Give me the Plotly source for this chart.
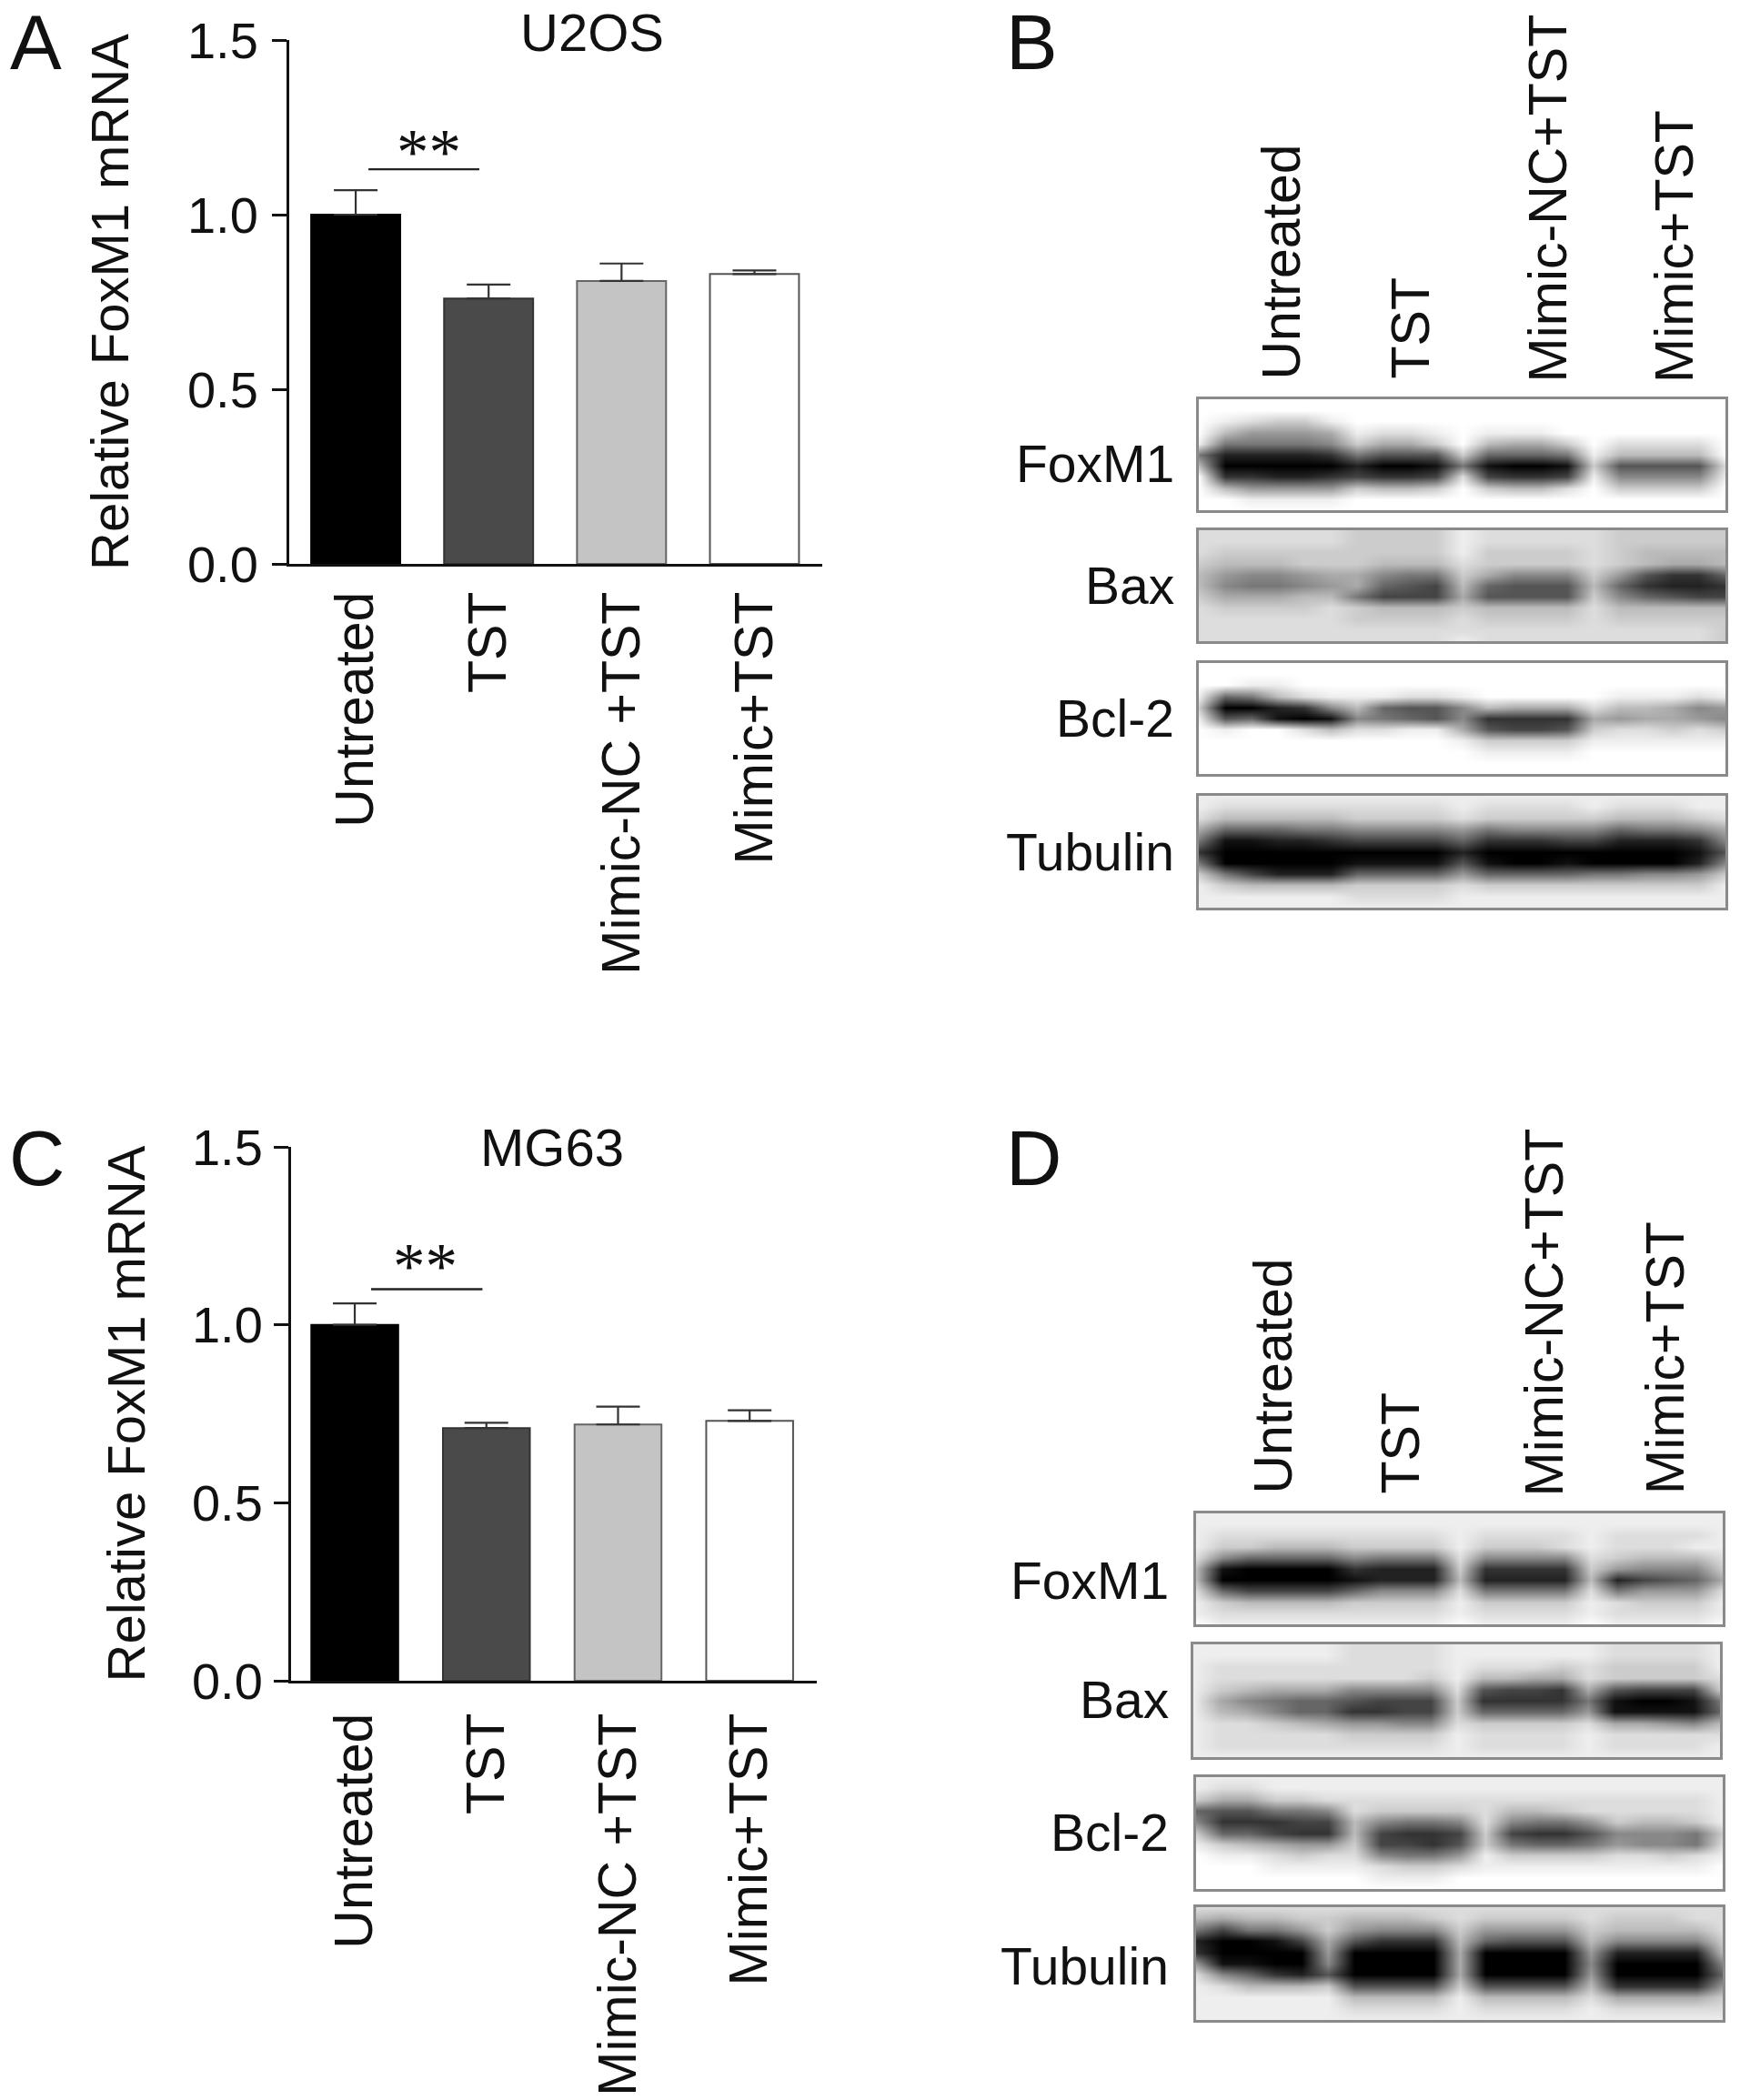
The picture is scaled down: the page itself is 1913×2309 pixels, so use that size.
import numpy as np
import plotly.graph_objects as go

# ---------- data ----------
conditions_bar = ["Untreated", "TST", "Mimic-NC +TST", "Mimic+TST"]
conditions_blot = ["Untreated", "TST", "Mimic-NC+TST", "Mimic+TST"]
proteins = ["FoxM1", "Bax", "Bcl-2", "Tubulin"]
ticks_y = [0.0, 0.5, 1.0, 1.5]

u2os_mean = [1.00, 0.76, 0.81, 0.83]
u2os_err = [0.07, 0.04, 0.05, 0.01]
mg63_mean = [1.00, 0.71, 0.72, 0.73]
mg63_err = [0.06, 0.015, 0.05, 0.03]
sig_level_u2os = 1.13
sig_level_mg63 = 1.10

# Blot brightness, one hex digit per cell (0 black, f white);
# rows run top to bottom, columns left to right across the lanes.
b_foxm1 = ["f fffff ffff f ffff f ffff f", "f fffff ffff f ffff f ffff f", "f edcce ffff f ffff f ffff f",
           "f b999a edde f eeef f ffff f", "e 77778 caac f baac f dddd f", "7 22223 7555 c 6667 e bbbb f",
           "b 00000 2001 7 1001 c 5555 d", "f 33223 4334 d 4334 e 8888 e", "f b9999 cbbc f cbbd f cccc f",
           "f feeee ffff f ffff f ffff f", "f fffff ffff f ffff f ffff f"]
b_bax = ["d ddddd cccc e dddd d cccc c", "d ddddd cccc e dddd d cccc c", "d ccccc cccc e cccc d cbbb b",
         "c bbbcc cbbb d cccc d cbaa b", "b 9889a a877 c a888 c 9533 6", "b 87789 a654 b 6555 b 6322 3",
         "c aaabb 7444 a 5555 c 8654 4", "d ccccd cbbb c bbbb d bbbb b", "d ddddd cccc d cccc d cccc c",
         "d ddddd dddd d dddd d dddd c", "d ddddd dddd e dddd d dddd c"]
b_bcl2 = ["f fffff ffff f ffff f ffff f", "f fffff ffff f ffff f ffff f", "f feeff ffff f ffff f ffff f",
          "e 67bde eedd e ffff f eeed e", "c 00238 b655 8 baaa d bba8 9", "e 56101 8765 8 3333 a 9aa9 8",
          "f effdb ddee a 5445 c ddcd c", "f fffff ffff e cccc e eeee e", "f fffff ffff f eeee f ffff f",
          "f fffff ffff f ffff f ffff f", "f fffff ffff f ffff f ffff f"]
b_tubulin = ["e eeeee eeee e eeee e eeee e", "e ddddd dddd e dddd e ddde e", "d bbbbb cccc d cccc c bbbc d",
             "a 66677 8888 9 7888 8 6778 a", "7 11223 4444 6 3334 4 2223 8", "3 00000 0000 2 0000 0 0001 5",
             "7 00000 1111 5 1001 0 0002 8", "c 74222 6666 9 6666 7 7889 c", "e cbbbb cccc d cccc c cccc e",
             "e eeeee dddd e eeee e eeee e", "e eeeee eeee e eeee e eeee e"]
d_foxm1 = ["e eeeee eeee e eeee e eeee e", "e eeeee eeee e eeee e eeee e", "e ddddd dddd e dddd e dddd e",
           "e ccbbb cccc e cccd e ddde e", "d 86666 8777 d 8888 d cbbb d", "b 10000 3222 c 3333 c 9888 c",
           "b 00000 1222 b 2222 b 2456 a", "d 64444 6888 d 7777 d 7999 d", "e cbbbb cccc e cccc e dccc e",
           "e ddddd dddd e dddd e dddd e", "f eeeee eeee f eeee f eeee f"]
d_bax = ["e eeeee dddd e eeee e dddd e", "e eeeee dddd e eeee e dddd e", "e ddddd dddd e dddc d cccc e",
         "e ddddd dddc e bbaa d cccc d", "e cbaaa 8888 d 5443 a 5444 c", "e a8766 5444 c 3333 7 1001 7",
         "e ba866 3344 c 6666 9 1111 6", "e ddcba 9988 d cccc d aa98 b", "e ddddd cccc e dddd e dddd d",
         "e ddddd dddd e dddd e dddd e", "e eeeee eeee e eeee e eeee e"]
d_bcl2 = ["e eeeee eeee e eeee e eeee e", "e ddeee eeee e eeee e eeee e", "c aaccd dddd d dddd d dddd e",
          "6 55778 dccc c dbbc d dddd e", "8 33344 b877 8 d877 9 cbbc e", "c 66433 b433 4 c433 5 8887 c",
          "e cba99 c443 5 c766 7 9887 d", "f eedcd d877 9 eccc c ddcd e", "f ffeee edcc d eeee e eeee f",
          "f fffff feee f ffff f ffff f", "f fffff ffff f ffff f ffff f"]
d_tubulin = ["d ddddd dddd d dddd d dddd d", "b abbcc bbbc d cccc d cccd d", "7 4779c 9888 c 9999 c bbbb d",
             "2 0014a 5333 b 6555 b 8888 c", "3 00009 0000 a 0000 9 2222 b", "9 11008 0000 a 0000 8 0000 8",
             "d 86325 0000 a 0000 9 0000 6", "e dbbbc 5555 c 5555 b 3333 9", "e eeeee bbbb e bbbb d aaaa c",
             "e eeeee dddd e dddd e dddd d", "e eeeee eeee e eeee e eeee e"]

# ---------- layout helpers ----------
W, H = 1913, 2309
FONT = "Liberation Sans"
INK = "#111111"
BAR_FILL = ["#000000", "#4a4a4a", "#c4c4c4", "#ffffff"]
BAR_EDGE = ["#000000", "#333333", "#666666", "#555555"]


def dom_x(a, b):
    return [a / W, b / W]


def dom_y(top, bottom):
    return [1 - bottom / H, 1 - top / H]


def parse(rows):
    return np.array([[int(c, 16) for c in r.replace(" ", "")] for r in rows], dtype=float)


fig = go.Figure()
layout = dict(
    width=W, height=H, autosize=False, margin=dict(l=0, r=0, t=0, b=0, autoexpand=False),
    paper_bgcolor="white", plot_bgcolor="white", showlegend=False, barmode="overlay",
    font=dict(family=FONT, color=INK),
)
annotations = []


def note(text, x, y, size, xa="center", ya="middle", angle=0, family=FONT):
    annotations.append(dict(text=text, x=x / W, y=1 - y / H, xref="paper", yref="paper",
                            xanchor=xa, yanchor=ya, textangle=angle, showarrow=False,
                            font=dict(size=size, family=family, color=INK)))


axis_no = [0]


def bar_panel(mean, err, sig, box, xrange, bar_w, sig_x, standoff, y_standoff, title_standoff):
    axis_no[0] += 1
    n = axis_no[0]
    xa, ya = f"x{n}", f"y{n}"
    left, right, top, bottom = box
    xs = list(range(len(mean)))
    fig.add_trace(go.Bar(
        x=xs, y=mean, width=bar_w, xaxis=xa, yaxis=ya,
        marker=dict(color=BAR_FILL, line=dict(color=BAR_EDGE, width=2)),
        error_y=dict(type="data", symmetric=False, array=err, arrayminus=[0] * len(err),
                     color="#333333", thickness=2.2, width=24),
        hoverinfo="skip"))
    fig.add_trace(go.Scatter(x=sig_x, y=[sig, sig], mode="lines", xaxis=xa, yaxis=ya,
                             line=dict(color="#222222", width=2.4), hoverinfo="skip"))
    layout[f"xaxis{n}"] = dict(
        domain=dom_x(left, right), range=xrange, anchor=ya, type="linear",
        tickmode="array", tickvals=xs, ticktext=conditions_bar, tickangle=-90, ticks="",
        ticklabelstandoff=standoff, showgrid=False, zeroline=False,
        showline=True, linecolor="#111111", linewidth=3,
        tickfont=dict(size=59, family=FONT, color=INK))
    layout[f"yaxis{n}"] = dict(
        domain=dom_y(top, bottom), range=[0, 1.5], anchor=xa,
        tickmode="array", tickvals=ticks_y, ticktext=[f"{t:.1f}" for t in ticks_y],
        ticks="outside", ticklen=16, tickwidth=3, tickcolor="#111111",
        ticklabelstandoff=y_standoff, showgrid=False, zeroline=False,
        showline=True, linecolor="#111111", linewidth=3,
        tickfont=dict(size=56, family=FONT, color=INK),
        title=dict(text="Relative FoxM1 mRNA", standoff=title_standoff,
                   font=dict(size=58, family=FONT, color=INK)))


def blot_panel(grid, box):
    axis_no[0] += 1
    n = axis_no[0]
    xa, ya = f"x{n}", f"y{n}"
    left, right, top, bottom = box
    z = parse(grid)
    fig.add_trace(go.Heatmap(
        z=z, x=np.arange(z.shape[1]).tolist(), y=np.arange(z.shape[0]).tolist(),
        xaxis=xa, yaxis=ya, zmin=0, zmax=15, zsmooth="best", showscale=False,
        colorscale=[[0, "#000000"], [1, "#ffffff"]], hoverinfo="skip"))
    common = dict(showgrid=False, zeroline=False, showticklabels=False, ticks="",
                  showline=True, mirror=True, linecolor="#8a8a8a", linewidth=2.5)
    layout[f"xaxis{n}"] = dict(domain=dom_x(left, right), range=[0, z.shape[1] - 1], anchor=ya, **common)
    layout[f"yaxis{n}"] = dict(domain=dom_y(top, bottom), range=[z.shape[0] - 1, 0], anchor=xa, **common)


# Panel A
bar_panel(u2os_mean, u2os_err, sig_level_u2os, (318, 904, 44, 620), [-0.5, 3.51], 0.67, [0.096, 0.93], 4, 4, 46)
# Panel C
bar_panel(mg63_mean, mg63_err, sig_level_mg63, (320, 898, 1261, 1848), [-0.484, 3.51], 0.66, [0.124, 0.97], 9, 1, 33)

# Panel B
for grid, box in zip([b_foxm1, b_bax, b_bcl2, b_tubulin],
                     [(1318, 1897, 439, 561), (1318, 1897, 583, 705), (1318, 1897, 729, 851), (1318, 1897, 875, 998)]):
    blot_panel(grid, box)
# Panel D
for grid, box in zip([d_foxm1, d_bax, d_bcl2, d_tubulin],
                     [(1315, 1894, 1664, 1786), (1312, 1891, 1808, 1932), (1315, 1894, 1954, 2077), (1315, 1894, 2097, 2221)]):
    blot_panel(grid, box)

# Text
for letter, x, y in [("A", 9, 47), ("B", 1104, 47), ("C", 8, 1273), ("D", 1104, 1273)]:
    note(letter, x, y, 85, xa="left")
note("U2OS", 651, 36, 58)
note("MG63", 607, 1261, 58)
note("**", 471, 167, 71, family="Liberation Serif")
note("**", 467, 1392, 71, family="Liberation Serif")

for name, y in zip(proteins, [510, 644, 790, 937]):
    note(name, 1293, y, 57, xa="right")
for name, y in zip(proteins, [1738, 1869, 2015, 2162]):
    note(name, 1287, y, 57, xa="right")
for name, x, y in zip(conditions_blot, [1409, 1551, 1702, 1841], [420, 419, 423, 423]):
    note(name, x, y, 59, ya="bottom", angle=-90)
for name, x, y in zip(conditions_blot, [1399, 1539, 1697, 1831], [1645, 1645, 1648, 1645]):
    note(name, x, y, 59, ya="bottom", angle=-90)

layout["annotations"] = annotations
fig.update_layout(**layout)
fig.write_html("out.html", config={"displayModeBar": False},
               post_script="document.body.style.margin='0';")
